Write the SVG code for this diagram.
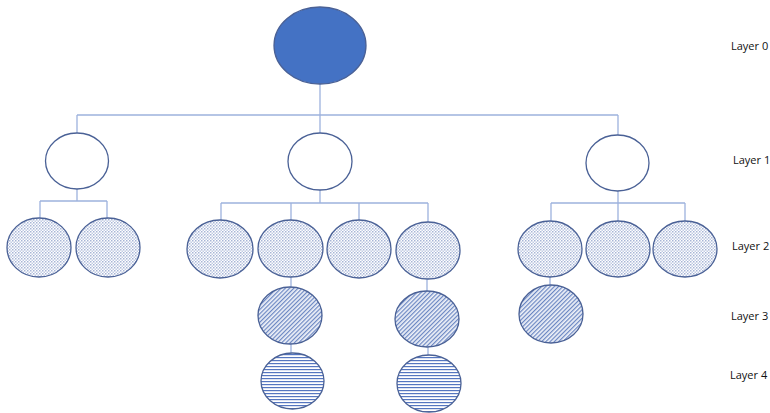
<svg xmlns="http://www.w3.org/2000/svg" width="770" height="413" viewBox="0 0 770 413">
<defs>
<pattern id="dots" width="3" height="3" patternUnits="userSpaceOnUse">
<rect width="3" height="3" fill="#ffffff"/>
<rect x="0" y="0" width="1.5" height="1.5" fill="#A7B5D6"/>
<rect x="1.5" y="1.5" width="1.5" height="1.5" fill="#C2CCE4"/>
</pattern>
<pattern id="diag" width="3" height="3" patternUnits="userSpaceOnUse" patternTransform="rotate(-45)">
<rect width="3" height="3" fill="#EEF1F8"/>
<rect x="0" y="0" width="3" height="1.2" fill="#6A86C2"/>
</pattern>
<pattern id="horiz" width="4" height="3" patternUnits="userSpaceOnUse">
<rect width="4" height="3" fill="#ffffff"/>
<rect x="0" y="0" width="4" height="1.2" fill="#5576C0"/>
</pattern>
</defs>
<style>
.c{stroke:#9DB2DD;stroke-width:1.3;fill:none}
.n{stroke:#4A6196;stroke-width:1.3}
.w{fill:#ffffff}
.l2{fill:url(#dots)}
.l3{fill:url(#diag)}
.l4{fill:url(#horiz)}
.t{font-family:"Open Sans","Noto Sans",sans-serif;font-size:11px;fill:#111111}
</style>
<rect width="770" height="413" fill="#ffffff"/>
<g id="connectors">
<path class="c" d="M320 84V115M77 115H618M77 115V133M320 115V133M618 115V135"/>
<path class="c" d="M77 189V201M40 201H107M40 201V218M107 201V218"/>
<path class="c" d="M320 190V203M221 203H428M221 203V220M291 203V220M359 203V220M428 203V222"/>
<path class="c" d="M618 191V203M551 203H685M551 203V221M618 203V221M685 203V221"/>
<path class="c" d="M291 277V287M291 344V353M427 279V291M428 347V355M550 277V285"/>
</g>
<g id="root"><ellipse class="n" cx="320" cy="45.5" rx="46" ry="38.5" fill="#4472C4" stroke="#4A6FB5"/></g>
<g id="l1a"><ellipse class="n w" cx="77" cy="161" rx="31.5" ry="28"/></g>
<g id="l1b"><ellipse class="n w" cx="320" cy="161.5" rx="32" ry="28.5"/></g>
<g id="l1c"><ellipse class="n w" cx="617.5" cy="163" rx="31.5" ry="28"/></g>
<g id="l2a"><ellipse class="n l2" cx="39" cy="247.5" rx="32" ry="29.5"/></g>
<g id="l2b"><ellipse class="n l2" cx="108" cy="247.5" rx="32" ry="29.5"/></g>
<g id="l2c"><ellipse class="n l2" cx="220" cy="249" rx="33" ry="29"/></g>
<g id="l2d"><ellipse class="n l2" cx="290.5" cy="248.5" rx="32.5" ry="28.5"/></g>
<g id="l2e"><ellipse class="n l2" cx="359" cy="249" rx="32" ry="29"/></g>
<g id="l2f"><ellipse class="n l2" cx="428" cy="250.5" rx="32" ry="28.5"/></g>
<g id="l2g"><ellipse class="n l2" cx="550" cy="249" rx="32" ry="28"/></g>
<g id="l2h"><ellipse class="n l2" cx="618" cy="249" rx="32" ry="28"/></g>
<g id="l2i"><ellipse class="n l2" cx="685" cy="249" rx="32" ry="28"/></g>
<g id="l3a"><ellipse class="n l3" cx="290" cy="315.5" rx="32" ry="28.5"/></g>
<g id="l3b"><ellipse class="n l3" cx="427" cy="319" rx="32" ry="28"/></g>
<g id="l3c"><ellipse class="n l3" cx="551" cy="314" rx="32" ry="29"/></g>
<g id="l4a"><ellipse class="n l4" cx="292.5" cy="381" rx="31.5" ry="28"/></g>
<g id="l4b"><ellipse class="n l4" cx="429" cy="383.5" rx="32" ry="28.5"/></g>
<g id="labels">
<text class="t" x="731" y="50">Layer 0</text>
<text class="t" x="733" y="164">Layer 1</text>
<text class="t" x="732" y="250">Layer 2</text>
<text class="t" x="731" y="320">Layer 3</text>
<text class="t" x="730" y="379">Layer 4</text>
</g>
</svg>
